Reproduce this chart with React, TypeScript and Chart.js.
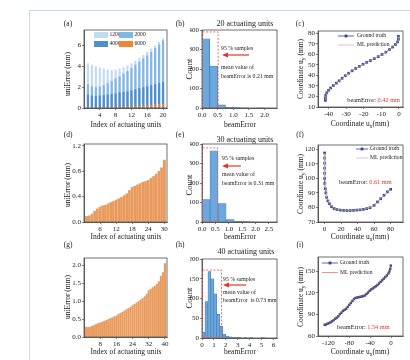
import React, { useEffect, useRef } from 'react';
import { Chart, registerables } from 'chart.js';

Chart.register(...registerables);

const W = 410;
const H = 360;
const SERIF = "'Liberation Serif', 'Times New Roman', serif";
const INK = '#222222';
const AXIS = '#333333';
const RED = '#e3342b';
const BOX_RED = '#e0605a';
const NAVY = '#33458a';
const ORANGE_BAR = '#e8995b';
const HIST_FILL = '#6aa8de';
const HIST_EDGE = '#3b6ea8';
const ML_LIGHT = 'rgba(214,178,196,0.9)';
const ML_RED = 'rgba(232,96,96,0.75)';

// ---------- (a) uniError vs index, four training-set sizes ----------
const aIndex = [1, 2, 3, 4, 5, 6, 7, 8, 9, 10, 11, 12, 13, 14, 15, 16, 17, 18, 19, 20];
const aLabels = ['1200', '2000', '4000', '6000'];
const aColors = ['#c3dbf1', '#80b7e3', '#4f8fce', '#ee8636'];
const a1200 = [4.3, 4.15, 4.0, 3.9, 3.8, 3.7, 3.65, 3.7, 3.8, 3.95, 4.1, 4.3, 4.55, 4.8, 5.1, 5.4, 5.7, 6.0, 6.35, 6.7];
const a2000 = [2.3, 2.1, 2.0, 2.05, 2.2, 2.4, 2.6, 2.85, 3.05, 3.3, 3.55, 3.85, 4.15, 4.45, 4.75, 5.05, 5.4, 5.75, 6.1, 6.5];
const a4000 = [1.3, 1.2, 1.15, 1.2, 1.25, 1.3, 1.35, 1.4, 1.5, 1.55, 1.6, 1.7, 1.8, 1.9, 2.0, 2.1, 2.2, 2.3, 2.4, 2.5];
const a6000 = [0.1, 0.1, 0.1, 0.1, 0.1, 0.12, 0.12, 0.13, 0.14, 0.15, 0.16, 0.18, 0.2, 0.22, 0.24, 0.27, 0.3, 0.33, 0.36, 0.4];
const aXTicks = [4, 8, 12, 16, 20];
const aYTicks = [0, 2, 4, 6];

// ---------- (d) 30 actuating units ----------
const dIndex = [1, 2, 3, 4, 5, 6, 7, 8, 9, 10, 11, 12, 13, 14, 15, 16, 17, 18, 19, 20, 21, 22, 23, 24, 25, 26, 27, 28, 29, 30];
const dErr = [0.09, 0.1, 0.13, 0.17, 0.21, 0.24, 0.26, 0.27, 0.29, 0.31, 0.33, 0.35, 0.37, 0.39, 0.42, 0.45, 0.5, 0.55, 0.57, 0.59, 0.61, 0.63, 0.64, 0.66, 0.69, 0.72, 0.76, 0.8, 0.86, 0.98];
const dXTicks = [6, 12, 18, 24, 30];
const dYTicks = [0, 0.4, 0.8, 1.2];

// ---------- (g) 40 actuating units ----------
const gIndex = [1, 2, 3, 4, 5, 6, 7, 8, 9, 10, 11, 12, 13, 14, 15, 16, 17, 18, 19, 20, 21, 22, 23, 24, 25, 26, 27, 28, 29, 30, 31, 32, 33, 34, 35, 36, 37, 38, 39, 40];
const gErr = [0.28, 0.27, 0.28, 0.31, 0.33, 0.36, 0.38, 0.4, 0.42, 0.44, 0.47, 0.49, 0.52, 0.54, 0.57, 0.59, 0.63, 0.66, 0.7, 0.73, 0.77, 0.8, 0.84, 0.88, 0.92, 0.96, 1.0, 1.04, 1.08, 1.13, 1.2, 1.3, 1.34, 1.38, 1.42, 1.48, 1.55, 1.7, 1.8, 2.05];
const gXTicks = [8, 16, 24, 32, 40];
const gYTicks = [0, 0.5, 1, 1.5, 2];

// ---------- histograms (b) (e) (h) ----------
const bBinWidth = 0.25;
const bCounts = [355, 215, 16, 4, 2, 1, 0, 1];
const bXTicks = [0, 0.5, 1, 1.5, 2];
const bYTicks = [0, 100, 200, 300, 400];

const eBinWidth = 0.3;
const eCounts = [115, 365, 95, 12, 4, 2, 1];
const eXTicks = [0, 0.5, 1, 1.5, 2, 2.5];
const eYTicks = [0, 100, 200, 300, 400];

const hBinWidth = 0.25;
const hCounts = [15, 92, 168, 150, 112, 60, 30, 10, 5, 3, 2, 1, 2, 0, 1, 0, 1, 0, 0, 0, 1];
const hXTicks = [0, 1, 2, 3, 4, 5, 6];
const hYTicks = [0, 50, 100, 150, 200];

// ---------- (c) coordinates, 20 units ----------
const cGtX = [-41.8, -41.8, -41.6, -41, -40, -38.8, -37.3, -35.6, -34, -32.3, -30.5, -28.6, -26.6, -24.6, -22.5, -20.4, -18.3, -16.2, -14, -11.8, -9.6, -7.4, -5.4, -3.6, -2, -0.8, -0.3, -0.3];
const cGtY = [16.3, 18.5, 21, 23.5, 25.8, 28, 30.3, 32.6, 34.8, 37.2, 39.6, 42, 44.3, 46.5, 48.5, 50.5, 52.3, 54, 55.8, 57.7, 59.8, 62, 64.4, 66.8, 69.2, 71.6, 74.2, 77];
const cMlX = [-41.6, -41.7, -41.4, -40.8, -39.9, -38.6, -37.2, -35.5, -33.8, -32.1, -30.4, -28.5, -26.5, -24.5, -22.4, -20.3, -18.2, -16.1, -13.9, -11.7, -9.5, -7.3, -5.3, -3.5, -1.9, -0.7, -0.2, -0.2];
const cMlY = [16.6, 18.8, 21.2, 23.6, 25.9, 28.2, 30.4, 32.7, 35, 37.3, 39.7, 42.1, 44.4, 46.6, 48.6, 50.6, 52.4, 54.1, 55.9, 57.8, 59.9, 62.1, 64.5, 66.9, 69.3, 71.7, 74.3, 76.8];
const cXTicks = [-40, -30, -20, -10, 0];
const cYTicks = [10, 20, 30, 40, 50, 60, 70, 80];

// ---------- (f) coordinates, 30 units ----------
const fGtX = [0, 0, 0, 0, 0, 0, 0.3, 0.8, 1.5, 2.5, 4, 6, 8.5, 11.5, 15, 19, 23, 27, 31, 35, 39, 43, 47, 51, 55, 60, 64, 68, 72, 76, 80];
const fGtY = [117.5, 114, 110.5, 107, 103.5, 100, 96.5, 93, 90, 87, 84.5, 82.5, 80.5, 79.3, 78.6, 78.2, 78, 77.9, 77.9, 78, 78.2, 78.4, 78.7, 79.2, 79.8, 81.5, 83.8, 86, 88.4, 90.7, 92.5];
const fMlX = [0.2, 0.1, 0.1, 0.2, 0.1, 0.2, 0.5, 1, 1.7, 2.7, 4.2, 6.2, 8.7, 11.7, 15.2, 19.2, 23.2, 27.2, 31.2, 35.2, 39.2, 43.2, 47.2, 51.2, 55.2, 60.2, 64.2, 68.2, 72.2, 76.2, 80.1];
const fMlY = [117.2, 113.8, 110.4, 107.1, 103.6, 100.2, 96.8, 93.3, 90.2, 87.2, 84.7, 82.6, 80.6, 79.4, 78.7, 78.3, 78.1, 78, 78, 78.1, 78.3, 78.5, 78.8, 79.3, 80, 81.7, 84, 86.2, 88.6, 90.9, 92.6];
const fXTicks = [0, 20, 40, 60, 80];
const fYTicks = [70, 80, 90, 100, 110, 120];

// ---------- (i) coordinates, 40 units ----------
const iGtX = [-127, -125, -122, -119, -116, -113, -110, -107, -104, -101, -98, -95, -92, -89, -86, -83, -80, -77, -74, -71, -68, -65, -62, -59, -56, -53, -50, -47, -44, -41, -38, -35, -32, -29, -26, -23, -20, -17, -14, -11, -8, -5, -3, -1.5, -0.5];
const iGtY = [75.5, 76, 77, 78, 79, 80.5, 82, 84, 85.5, 87.5, 90.5, 92.5, 95, 96.5, 98, 100.5, 103.4, 106, 108.8, 111.5, 113, 113.6, 114, 114.5, 115, 115.6, 116.5, 118.5, 120.5, 123, 124.8, 126.2, 127.8, 129.3, 131, 133.2, 135.3, 137.5, 139.8, 142, 144.2, 147, 150, 153.5, 158];
const iMlX = [-126.6, -124.7, -121.8, -118.7, -115.8, -112.7, -109.8, -106.8, -103.7, -100.8, -97.8, -94.7, -91.8, -88.8, -85.7, -82.8, -79.8, -76.7, -73.8, -70.8, -67.8, -64.7, -61.8, -58.8, -55.7, -52.8, -49.8, -46.7, -43.8, -40.8, -37.8, -34.7, -31.8, -28.8, -25.7, -22.8, -19.8, -16.7, -13.8, -10.8, -7.8, -4.8, -2.8, -1.3, -0.4];
const iMlY = [76, 76.4, 77.5, 78.3, 79.4, 80.8, 82.5, 84.3, 86, 88, 90.8, 93, 95.3, 97, 98.5, 101, 103.8, 106.5, 109.2, 111.8, 113.3, 113.9, 114.4, 114.8, 115.4, 116, 117, 118.9, 121, 123.3, 125.1, 126.6, 128.1, 129.7, 131.4, 133.5, 135.7, 137.9, 140.1, 142.4, 144.6, 147.4, 150.4, 154, 157.6];
const iXTicks = [-120, -80, -40, 0];
const iYTicks = [60, 90, 120, 150];

// ---------- text helpers ----------
type Seg = { t: string; sub?: boolean; color?: string };
type Txt = { x: number; y: number; s: Seg[]; size?: number; align?: 'left' | 'center' | 'right'; rot?: boolean };

function txt(x: number, y: number, t: string | Seg[], opts: any = {}): Txt {
  return { x, y, s: typeof t === 'string' ? [{ t }] : t, ...opts };
}

function drawText(ctx: CanvasRenderingContext2D, item: Txt) {
  const size = item.size ?? 7.5;
  ctx.save();
  ctx.translate(item.x, item.y);
  if (item.rot) ctx.rotate(-Math.PI / 2);
  ctx.textBaseline = 'middle';
  ctx.textAlign = 'left';
  const widths = item.s.map((s) => {
    ctx.font = `${s.sub ? size * 0.72 : size}px ${SERIF}`;
    return ctx.measureText(s.t).width;
  });
  const total = widths.reduce((a, b) => a + b, 0);
  let x = item.align === 'center' ? -total / 2 : item.align === 'right' ? -total : 0;
  item.s.forEach((s, i) => {
    ctx.font = `${s.sub ? size * 0.72 : size}px ${SERIF}`;
    ctx.fillStyle = s.color ?? INK;
    ctx.fillText(s.t, x, s.sub ? size * 0.3 : 0);
    x += widths[i];
  });
  ctx.restore();
}

function arrow(ctx: CanvasRenderingContext2D, tail: number, head: number, y: number) {
  ctx.save();
  ctx.strokeStyle = RED;
  ctx.fillStyle = RED;
  ctx.lineWidth = 1.2;
  ctx.beginPath();
  ctx.moveTo(tail, y);
  ctx.lineTo(head + 4, y);
  ctx.stroke();
  ctx.beginPath();
  ctx.moveTo(head, y);
  ctx.lineTo(head + 6, y - 2.6);
  ctx.lineTo(head + 6, y + 2.6);
  ctx.closePath();
  ctx.fill();
  ctx.restore();
}

function redBox(chart: any, ctx: CanvasRenderingContext2D, xr: number, yt: number) {
  const sx = chart.scales.x;
  const sy = chart.scales.y;
  const x0 = sx.getPixelForValue(0);
  const x1 = sx.getPixelForValue(xr);
  const y0 = sy.getPixelForValue(0);
  const y1 = sy.getPixelForValue(yt);
  ctx.save();
  ctx.strokeStyle = BOX_RED;
  ctx.lineWidth = 0.9;
  ctx.setLineDash([2, 1.6]);
  ctx.strokeRect(x0 + 0.5, y1, x1 - x0, y0 - y1 - 0.5);
  ctx.restore();
}

function scatterLegend(ctx: CanvasRenderingContext2D, x1: number, x2: number, tx: number, y1: number, y2: number, ml: string) {
  ctx.save();
  ctx.strokeStyle = NAVY;
  ctx.lineWidth = 0.8;
  ctx.beginPath();
  ctx.moveTo(x1, y1);
  ctx.lineTo(x2, y1);
  ctx.stroke();
  ctx.fillStyle = NAVY;
  const m = (x1 + x2) / 2;
  ctx.fillRect(m - 1.4, y1 - 1.4, 2.8, 2.8);
  ctx.strokeStyle = ml;
  ctx.lineWidth = 0.9;
  ctx.beginPath();
  ctx.moveTo(x1, y2);
  ctx.lineTo(x2, y2);
  ctx.stroke();
  ctx.restore();
  drawText(ctx, txt(tx, y1, 'Ground truth', { size: 5.6 }));
  drawText(ctx, txt(tx, y2, 'ML prediction', { size: 5.6 }));
}

// ---------- scale helper ----------
function lin(min: number, max: number, ticks: number[], dec: number, horiz: boolean) {
  return {
    type: 'linear',
    position: horiz ? 'bottom' : 'left',
    min,
    max,
    offset: false,
    afterBuildTicks: (s: any) => {
      s.ticks = ticks.map((v) => ({ value: v }));
    },
    afterFit: (s: any) => {
      if (horiz) s.height = 12;
      else s.width = 12;
    },
    ticks: {
      autoSkip: false,
      maxRotation: 0,
      minRotation: 0,
      padding: 1,
      color: INK,
      font: { family: SERIF, size: 7 },
      callback: (v: any) => Number(v).toFixed(dec),
    },
    grid: { offset: false, drawOnChartArea: false, drawTicks: true, tickLength: 2, color: AXIS, lineWidth: 0.6 },
    border: { display: true, color: AXIS, width: 0.7 },
  };
}

const xy = (xs: number[], ys: number[]) => xs.map((x, i) => ({ x, y: ys[i] }));
const hist = (w: number, counts: number[]) =>
  counts.map((c, i) => ({ x: w * i + w / 2, y: c })).filter((p) => p.y > 0);

function histDataset(w: number, counts: number[]) {
  return {
    data: hist(w, counts),
    backgroundColor: HIST_FILL,
    borderColor: HIST_EDGE,
    borderWidth: 0.6,
    barPercentage: 1,
    categoryPercentage: 1,
  };
}

function orangeDataset(xs: number[], ys: number[]) {
  return {
    data: xy(xs, ys),
    backgroundColor: ORANGE_BAR,
    borderColor: '#f3c6a0',
    borderWidth: 0.4,
    barPercentage: 1,
    categoryPercentage: 1,
  };
}

function scatterSets(mx: number[], my: number[], gx: number[], gy: number[], mlColor: string, r: number) {
  return [
    { data: xy(mx, my), showLine: true, borderColor: mlColor, borderWidth: 0.7, pointRadius: 0 },
    {
      data: xy(gx, gy),
      showLine: true,
      borderColor: NAVY,
      borderWidth: 0.6,
      pointStyle: 'rect',
      pointRadius: r,
      pointBackgroundColor: NAVY,
      pointBorderColor: NAVY,
      pointBorderWidth: 0,
    },
  ];
}

const aSeries = [a1200, a2000, a4000, a6000];

type Panel = {
  area: [number, number, number, number];
  type: string;
  datasets: any[];
  x: any;
  y: any;
  texts: Txt[];
  extra?: (chart: any, ctx: CanvasRenderingContext2D) => void;
};

const TL = 7.5; // label/axis-title font size
const AN = 5.8; // annotation font size

const panels: Panel[] = [
  // (a)
  {
    area: [84, 30, 167, 108],
    type: 'bar',
    datasets: [3, 2, 1, 0].map((k) => ({
      data: xy(aIndex, aSeries[k]),
      backgroundColor: aColors[k],
      borderWidth: 0,
      grouped: false,
      barPercentage: 0.55,
      categoryPercentage: 1,
    })),
    x: lin(0, 21, aXTicks, 0, true),
    y: lin(0, 7.5, aYTicks, 0, false),
    texts: [
      txt(68, 24, '(a)', { align: 'center', size: TL }),
      txt(68, 74, 'uniError (mm)', { align: 'center', rot: true, size: TL }),
      txt(126, 125, 'Index of actuating units', { align: 'center', size: TL }),
    ],
    extra: (chart, ctx) => {
      aLabels.forEach((lab, i) => {
        const c = i % 2;
        const r = Math.floor(i / 2);
        const bx = 94 + c * 25;
        const by = 32 + r * 9;
        ctx.fillStyle = aColors[i];
        ctx.fillRect(bx, by, 14, 6);
        drawText(ctx, txt(bx + 15.5, by + 3, lab, { size: 5.6 }));
      });
    },
  },
  // (b)
  {
    area: [202, 30, 277, 108],
    type: 'bar',
    datasets: [histDataset(bBinWidth, bCounts)],
    x: lin(0, 2.4, bXTicks, 1, true),
    y: lin(0, 400, bYTicks, 0, false),
    texts: [
      txt(180, 24, '(b)', { align: 'center', size: TL }),
      txt(245, 24, '20 actuating units', { align: 'center', size: 8 }),
      txt(190, 69, 'Count', { align: 'center', rot: true, size: 8.5 }),
      txt(240, 125, 'beamError', { align: 'center', size: TL }),
      txt(221, 48, '95 % samples', { size: AN }),
      txt(221, 67, 'mean value of', { size: AN }),
      txt(221, 76, 'beamError is 0.21 mm', { size: AN }),
    ],
    extra: (chart, ctx) => {
      redBox(chart, ctx, 0.5, 390);
      arrow(ctx, 249, 222, 55);
    },
  },
  // (c)
  {
    area: [318, 31, 403, 107],
    type: 'scatter',
    datasets: scatterSets(cMlX, cMlY, cGtX, cGtY, ML_LIGHT, 1.9),
    x: lin(-46, 2.3, cXTicks, 0, true),
    y: lin(10, 82, cYTicks, 0, false),
    texts: [
      txt(300, 24, '(c)', { align: 'center', size: TL }),
      txt(301, 69, [{ t: 'Coordinate u' }, { t: 'y', sub: true }, { t: ' (mm)' }], { align: 'center', rot: true, size: TL }),
      txt(360, 124, [{ t: 'Coordinate u' }, { t: 'x', sub: true }, { t: '(mm)' }], { align: 'center', size: TL }),
      txt(400, 100, [{ t: 'beamError: ' }, { t: '0.42 mm', color: RED }], { align: 'right', size: 6.3 }),
    ],
    extra: (chart, ctx) => scatterLegend(ctx, 338, 354, 357, 36, 45, ML_LIGHT),
  },
  // (d)
  {
    area: [84, 144, 167, 222],
    type: 'bar',
    datasets: [orangeDataset(dIndex, dErr)],
    x: lin(0, 31, dXTicks, 0, true),
    y: lin(0, 1.23, dYTicks, 1, false),
    texts: [
      txt(68, 135, '(d)', { align: 'center', size: TL }),
      txt(68, 185, 'uniError (mm)', { align: 'center', rot: true, size: TL }),
      txt(126, 237, 'Index of actuating units', { align: 'center', size: TL }),
    ],
  },
  // (e)
  {
    area: [202, 144, 277, 222],
    type: 'bar',
    datasets: [histDataset(eBinWidth, eCounts)],
    x: lin(0, 2.8, eXTicks, 1, true),
    y: lin(0, 400, eYTicks, 0, false),
    texts: [
      txt(180, 135, '(e)', { align: 'center', size: TL }),
      txt(245, 140, '30 actuating units', { align: 'center', size: 8 }),
      txt(190, 185, 'Count', { align: 'center', rot: true, size: 8.5 }),
      txt(240, 237, 'beamError', { align: 'center', size: TL }),
      txt(222, 158, '95 % samples', { size: AN }),
      txt(222, 174, 'mean value of', { size: AN }),
      txt(222, 183, 'beamError is 0.31 mm', { size: AN }),
    ],
    extra: (chart, ctx) => {
      redBox(chart, ctx, 0.56, 380);
      arrow(ctx, 241, 222, 166);
    },
  },
  // (f)
  {
    area: [318, 145, 403, 222],
    type: 'scatter',
    datasets: scatterSets(fMlX, fMlY, fGtX, fGtY, ML_LIGHT, 1.9),
    x: lin(-8, 95, fXTicks, 0, true),
    y: lin(70, 123, fYTicks, 0, false),
    texts: [
      txt(300, 135, '(f)', { align: 'center', size: TL }),
      txt(301, 184, [{ t: 'Coordinate u' }, { t: 'y', sub: true }, { t: ' (mm)' }], { align: 'center', rot: true, size: TL }),
      txt(360, 237, [{ t: 'Coordinate u' }, { t: 'x', sub: true }, { t: '(mm)' }], { align: 'center', size: TL }),
      txt(339, 182, [{ t: 'beamError: ' }, { t: '0.61 mm', color: RED }], { size: 6.3 }),
    ],
    extra: (chart, ctx) => scatterLegend(ctx, 356, 368, 370, 149, 158, ML_LIGHT),
  },
  // (g)
  {
    area: [84, 258, 167, 337],
    type: 'bar',
    datasets: [orangeDataset(gIndex, gErr)],
    x: lin(0, 41, gXTicks, 0, true),
    y: lin(0, 2.2, gYTicks, 1, false),
    texts: [
      txt(68, 245, '(g)', { align: 'center', size: TL }),
      txt(68, 297, 'uniError (mm)', { align: 'center', rot: true, size: TL }),
      txt(126, 352, 'Index of actuating units', { align: 'center', size: TL }),
    ],
  },
  // (h)
  {
    area: [202, 259, 277, 338],
    type: 'bar',
    datasets: [histDataset(hBinWidth, hCounts)],
    x: lin(0, 6.3, hXTicks, 0, true),
    y: lin(0, 200, hYTicks, 0, false),
    texts: [
      txt(180, 245, '(h)', { align: 'center', size: TL }),
      txt(246, 252, '40 actuating units', { align: 'center', size: 8 }),
      txt(190, 298, 'Count', { align: 'center', rot: true, size: 8.5 }),
      txt(240, 352, 'beamError', { align: 'center', size: TL }),
      txt(223, 279, '95 % samples', { size: AN }),
      txt(223, 292, 'mean value of', { size: AN }),
      txt(223, 300, 'beamError  is 0.73 mm', { size: AN }),
    ],
    extra: (chart, ctx) => {
      redBox(chart, ctx, 1.6, 172);
      arrow(ctx, 246, 223, 285);
    },
  },
  // (i)
  {
    area: [318, 257, 403, 336],
    type: 'scatter',
    datasets: scatterSets(iMlX, iMlY, iGtX, iGtY, ML_RED, 1.7),
    x: lin(-140, 23, iXTicks, 0, true),
    y: lin(60, 170, iYTicks, 0, false),
    texts: [
      txt(300, 245, '(i)', { align: 'center', size: TL }),
      txt(301, 297, [{ t: 'Coordinate u' }, { t: 'y', sub: true }, { t: ' (mm)' }], { align: 'center', rot: true, size: TL }),
      txt(360, 352, [{ t: 'Coordinate u' }, { t: 'x', sub: true }, { t: '(mm)' }], { align: 'center', size: TL }),
      txt(337, 327, [{ t: 'beamError: ' }, { t: '1.54 mm', color: RED }], { size: 6.3 }),
    ],
    extra: (chart, ctx) => scatterLegend(ctx, 322, 338, 340, 263, 272.5, ML_RED),
  },
];

function overlay(p: Panel) {
  return {
    id: 'overlay',
    afterDraw(chart: any) {
      const ctx: CanvasRenderingContext2D = chart.ctx;
      const { left, top, right, bottom } = chart.chartArea;
      ctx.save();
      ctx.strokeStyle = AXIS;
      ctx.lineWidth = 0.7;
      ctx.strokeRect(left, top, right - left, bottom - top);
      ctx.restore();
      if (p.extra) p.extra(chart, ctx);
      p.texts.forEach((t) => drawText(ctx, t));
    },
  };
}

function PanelChart({ panel }: { panel: Panel }) {
  const ref = useRef<HTMLCanvasElement>(null);
  useEffect(() => {
    const [L, T, R, B] = panel.area;
    const chart = new Chart(ref.current as HTMLCanvasElement, {
      type: panel.type as any,
      data: { datasets: panel.datasets },
      options: {
        responsive: false,
        animation: false,
        devicePixelRatio: 1,
        events: [],
        layout: { padding: { left: L - 12, top: T, right: W - R, bottom: H - B - 12 } },
        plugins: { legend: { display: false }, tooltip: { enabled: false }, title: { display: false } },
        scales: { x: panel.x, y: panel.y },
      } as any,
      plugins: [overlay(panel) as any],
    });
    return () => chart.destroy();
  }, [panel]);
  return (
    <canvas
      ref={ref}
      width={W}
      height={H}
      style={{ position: 'absolute', left: 0, top: 0, width: W, height: H }}
    />
  );
}

export default function App() {
  return (
    <div style={{ position: 'fixed', left: 0, top: 0, width: W, height: H, background: '#ffffff', overflow: 'hidden' }}>
      <div
        style={{
          position: 'absolute',
          left: 29,
          top: 10,
          width: W - 29,
          height: H - 10,
          borderLeft: '1px solid #c6daf1',
          borderTop: '1px solid #c6daf1',
        }}
      />
      {panels.map((p, i) => (
        <PanelChart key={i} panel={p} />
      ))}
    </div>
  );
}
